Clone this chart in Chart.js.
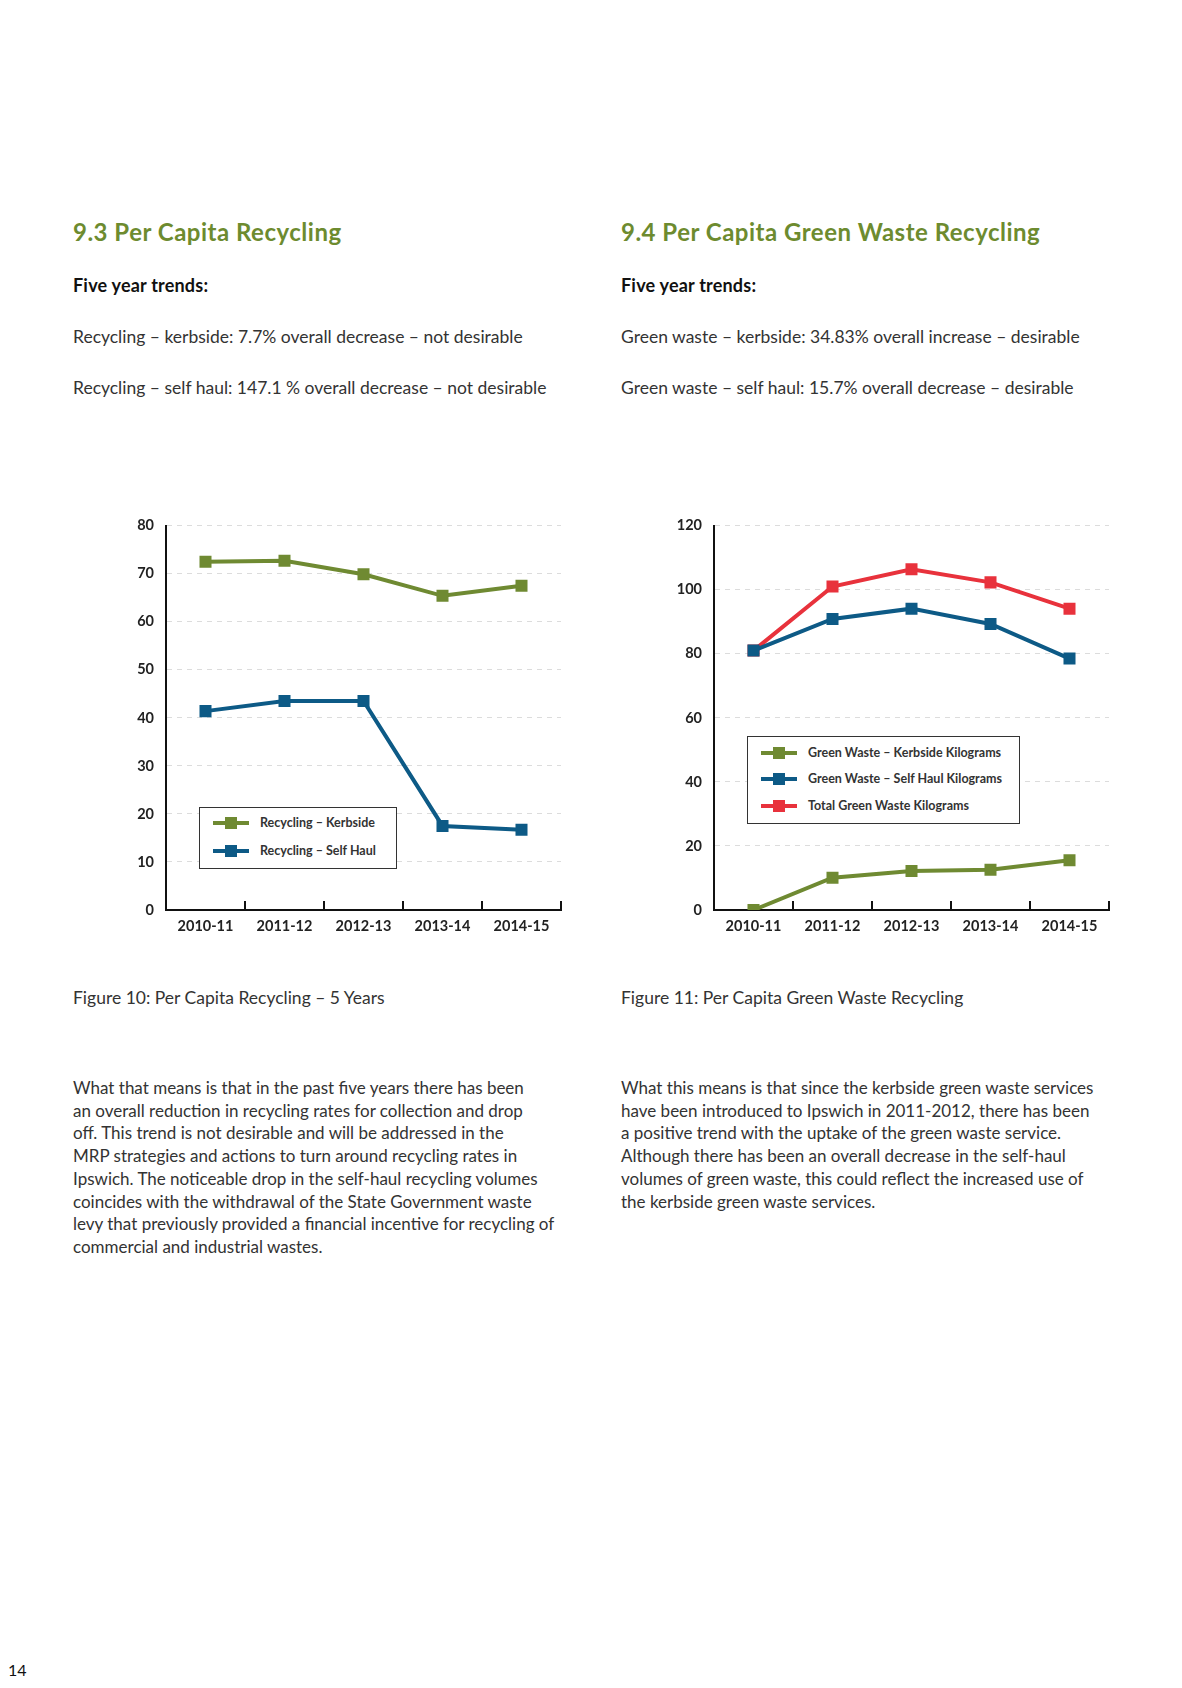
<!DOCTYPE html>
<html>
<head>
<meta charset="utf-8">
<script src="https://cdn.jsdelivr.net/npm/chart.js@4/dist/chart.umd.min.js"></script>
<style>
  body { margin: 0; background: #fff; font-family: "Lato", "DejaVu Sans", sans-serif; color: #333; }
  #page { position: relative; width: 1182px; height: 1688px; overflow: hidden; }
  .t { position: absolute; white-space: nowrap; }
  h2 { position: absolute; margin: 0; font-size: 24px; letter-spacing: 0.5px; font-weight: 700; color: #6d8b2f; line-height: 28px; white-space: nowrap; }
  .sub { font-size: 18px; letter-spacing: 0.2px; font-weight: 700; color: #111; line-height: 24px; }
  .body { font-size: 17.5px; line-height: 24px; }
  .para { font-size: 17px; line-height: 22.7px; }
  canvas { position: absolute; }
  .legend { position: absolute; border: 1.5px solid #333; background: #fff; font-size: 12.5px; font-weight: 700; color: #333; }
  .legend .row { position: absolute; left: 0; height: 14px; line-height: 14px; white-space: nowrap; }
  .legend .ln { position: absolute; width: 36px; height: 4px; top: 5px; }
  .legend .mk { position: absolute; width: 12px; height: 12px; top: 1px; left: 12px; }
</style>
</head>
<body>
<div id="page">
  <h2 style="left:73px; top:218px;">9.3 Per Capita Recycling</h2>
  <h2 style="left:621px; top:218px;">9.4 Per Capita Green Waste Recycling</h2>

  <div class="t sub" style="left:73px; top:273px;">Five year trends:</div>
  <div class="t sub" style="left:621px; top:273px;">Five year trends:</div>

  <div class="t body" style="left:73px; top:325px;">Recycling – kerbside: 7.7% overall decrease – not desirable</div>
  <div class="t body" style="left:73px; top:376px;">Recycling – self haul: 147.1 % overall decrease – not desirable</div>
  <div class="t body" style="left:621px; top:325px;">Green waste – kerbside: 34.83% overall increase – desirable</div>
  <div class="t body" style="left:621px; top:376px;">Green waste – self haul: 15.7% overall decrease – desirable</div>

  <canvas id="chart1" width="480" height="440" style="left:100px; top:505px; width:480px; height:440px;"></canvas>
  <canvas id="chart2" width="480" height="440" style="left:648px; top:505px; width:480px; height:440px;"></canvas>
  <div id="legend1" class="legend" style="left:199px; top:807px; width:196px; height:60px;"></div>
  <div id="legend2" class="legend" style="left:747px; top:736px; width:271px; height:86px;"></div>

  <div class="t body" style="left:73px; top:986px;">Figure 10: Per Capita Recycling – 5 Years</div>
  <div class="t body" style="left:621px; top:986px;">Figure 11: Per Capita Green Waste Recycling</div>

  <div class="t para" style="left:73px; top:1077px;">
    What that means is that in the past five years there has been<br>
    an overall reduction in recycling rates for collection and drop<br>
    off. This trend is not desirable and will be addressed in the<br>
    MRP strategies and actions to turn around recycling rates in<br>
    Ipswich. The noticeable drop in the self-haul recycling volumes<br>
    coincides with the withdrawal of the State Government waste<br>
    levy that previously provided a financial incentive for recycling of<br>
    commercial and industrial wastes.
  </div>
  <div class="t para" style="left:621px; top:1077px;">
    What this means is that since the kerbside green waste services<br>
    have been introduced to Ipswich in 2011-2012, there has been<br>
    a positive trend with the uptake of the green waste service.<br>
    Although there has been an overall decrease in the self-haul<br>
    volumes of green waste, this could reflect the increased use of<br>
    the kerbside green waste services.
  </div>

  <div class="t" style="left:8px; top:1660px; font-size:16px; color:#111;">14</div>
</div>

<script>
// categories
const years = ["2010-11", "2011-12", "2012-13", "2013-14", "2014-15"];

// Figure 10 - per capita recycling (kg)
const recyclingKerbside = [72.5, 72.7, 69.9, 65.4, 67.5];
const recyclingSelfHaul = [41.4, 43.5, 43.5, 17.5, 16.7];

// Figure 11 - per capita green waste (kg)
const greenKerbside = [0, 10.1, 12.2, 12.6, 15.5];
const greenSelfHaul = [81.0, 90.9, 94.1, 89.3, 78.5];
const greenTotal = [81.0, 101.0, 106.4, 102.3, 94.1];

const GREEN = "#6f8a32";
const BLUE = "#0d5a86";
const RED = "#e8323c";

function series(label, data, color) {
  return {
    label: label,
    data: data,
    borderColor: color,
    backgroundColor: color,
    borderWidth: 4,
    pointStyle: "rect",
    pointRadius: 8.5,
    pointHoverRadius: 8.5,
    pointBorderWidth: 0,
    tension: 0,
    fill: false,
  };
}

function makeChart(id, datasets, yMax, yStep) {
  return new Chart(document.getElementById(id), {
    type: "line",
    data: { labels: years, datasets: datasets },
    options: {
      responsive: false,
      animation: false,
      layout: { padding: { top: 19, right: 19, left: 0, bottom: 0 }, autoPadding: false },
      plugins: { legend: { display: false }, tooltip: { enabled: false } },
      scales: {
        x: {
          offset: true,
          grid: { offset: true, drawOnChartArea: false, drawTicks: true, tickLength: -9, color: "#111", lineWidth: 2 },
          border: { color: "#111", width: 2 },
          ticks: { padding: 17, color: "#222", font: { family: "Lato", size: 14.5, weight: "bold" } },
          afterFit: (s) => { s.height = 35; },
        },
        y: {
          min: 0,
          max: yMax,
          ticks: { stepSize: yStep, padding: 12, color: "#222", font: { family: "Lato", size: 14.5, weight: "bold" } },
          grid: {
            drawTicks: false,
            lineWidth: 1,
            color: (c) => (c.tick && c.tick.value === 0 ? "rgba(0,0,0,0)" : "#dcdcdc"),
          },
          border: { color: "#111", width: 2, dash: [5, 5] },
          afterFit: (s) => { s.width = 66; },
        },
      },
    },
  });
}

function buildLegend(id, chart, rowTops) {
  const box = document.getElementById(id);
  chart.data.datasets.forEach((ds, i) => {
    const row = document.createElement("div");
    row.className = "row";
    row.style.top = rowTops[i] + "px";
    row.innerHTML =
      '<span class="ln" style="left:13px;background:' + ds.borderColor + '"></span>' +
      '<span class="mk" style="left:25px;background:' + ds.borderColor + '"></span>' +
      '<span style="position:absolute;left:60px;">' + ds.label + "</span>";
    box.appendChild(row);
  });
}

const chart1 = makeChart("chart1", [
  series("Recycling – Kerbside", recyclingKerbside, GREEN),
  series("Recycling – Self Haul", recyclingSelfHaul, BLUE),
], 80, 10);

const chart2 = makeChart("chart2", [
  series("Green Waste – Kerbside Kilograms", greenKerbside, GREEN),
  series("Green Waste – Self Haul Kilograms", greenSelfHaul, BLUE),
  series("Total Green Waste Kilograms", greenTotal, RED),
], 120, 20);

buildLegend("legend1", chart1, [8, 36]);
buildLegend("legend2", chart2, [9, 35, 62]);
</script>
</body>
</html>
